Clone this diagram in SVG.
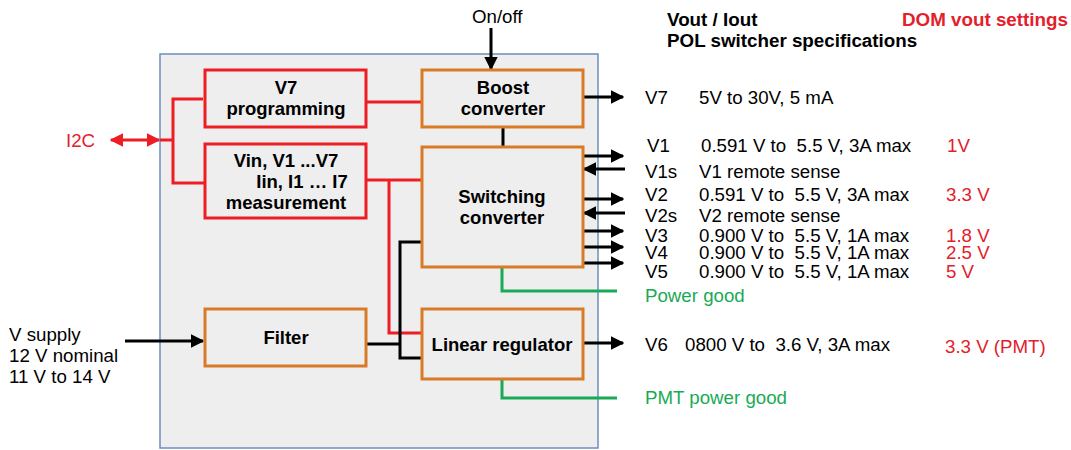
<svg xmlns="http://www.w3.org/2000/svg" width="1071" height="450" viewBox="0 0 1071 450">
<defs>
<style>
.t{font-family:"Liberation Sans",Arial,sans-serif;font-size:18.7px;fill:#000}
.b{font-family:"Liberation Sans",Arial,sans-serif;font-size:18.5px;font-weight:bold;fill:#000;text-anchor:middle}
.h{font-family:"Liberation Sans",Arial,sans-serif;font-size:18.8px;font-weight:bold;fill:#000}
.red{fill:#e3202b}
.grn{fill:#1aaa55}
.rbox{fill:#eeeeee;stroke:#ee1c25;stroke-width:3}
.obox{fill:#eeeeee;stroke:#d97a26;stroke-width:3}
.rl{fill:none;stroke:#ee1c25;stroke-width:3}
.bl{fill:none;stroke:#000;stroke-width:3}
.gl{fill:none;stroke:#1aaa55;stroke-width:3}
</style>
<marker id="ah" viewBox="0 0 10 10" refX="9" refY="5" markerWidth="4.5" markerHeight="4.5" markerUnits="strokeWidth" orient="auto"><path d="M0,0 L10,5 L0,10 z" fill="#000"/></marker>
<marker id="ahr" viewBox="0 0 10 10" refX="9" refY="5" markerWidth="4.5" markerHeight="4.5" markerUnits="strokeWidth" orient="auto-start-reverse"><path d="M0,0 L10,5 L0,10 z" fill="#ee1c25"/></marker>
</defs>
<rect x="0" y="0" width="1071" height="450" fill="#fff"/>
<rect id="outer" x="160" y="54" width="438" height="394" fill="#eeeeee" stroke="#6c8ebf" stroke-width="1.5"/>

<g id="connectors">
<line class="rl" x1="111" y1="140" x2="159" y2="140" marker-start="url(#ahr)" marker-end="url(#ahr)"/>
<polyline class="rl" points="203,99 173,99 173,183 205,183"/>
<line class="rl" x1="160" y1="140" x2="173" y2="140"/>
<line class="rl" x1="366" y1="102" x2="422" y2="102"/>
<line class="rl" x1="366" y1="180" x2="422" y2="180"/>
<polyline class="rl" points="389,180 389,333 422,333"/>
<line class="bl" x1="491" y1="28" x2="491" y2="69" marker-end="url(#ah)"/>
<line class="bl" x1="503" y1="127" x2="503" y2="147"/>
<polyline class="bl" points="422,242 400,242 400,358 422,358"/>
<line class="bl" x1="366" y1="344" x2="400" y2="344"/>
<line class="bl" x1="125" y1="341" x2="203" y2="341" marker-end="url(#ah)"/>
<line class="bl" x1="583" y1="97" x2="623" y2="97" marker-end="url(#ah)"/>
<line class="bl" x1="583" y1="156" x2="623" y2="156" marker-end="url(#ah)"/>
<line class="bl" x1="625" y1="169" x2="584" y2="169" marker-end="url(#ah)"/>
<line class="bl" x1="583" y1="199" x2="623" y2="199" marker-end="url(#ah)"/>
<line class="bl" x1="625" y1="213" x2="584" y2="213" marker-end="url(#ah)"/>
<line class="bl" x1="583" y1="231" x2="623" y2="231" marker-end="url(#ah)"/>
<line class="bl" x1="583" y1="247" x2="623" y2="247" marker-end="url(#ah)"/>
<line class="bl" x1="583" y1="263" x2="623" y2="263" marker-end="url(#ah)"/>
<line class="bl" x1="583" y1="343" x2="623" y2="343" marker-end="url(#ah)"/>
<polyline class="gl" points="502,267 502,291 617,291"/>
<polyline class="gl" points="502,379 502,398 617,398"/>
</g>

<g id="v7prog"><rect class="rbox" x="205" y="70" width="161" height="57"/><text class="b" x="286" y="94">V7</text><text class="b" x="286" y="115">programming</text></g>
<g id="boost"><rect class="obox" x="422" y="70" width="161" height="57"/><text class="b" x="503" y="94">Boost</text><text class="b" x="503" y="115">converter</text></g>
<g id="meas"><rect class="rbox" x="205" y="144" width="161" height="74"/><text class="b" x="286" y="167">Vin, V1 ...V7</text><text class="b" x="302" y="188">Iin, I1 … I7</text><text class="b" x="286" y="209">measurement</text></g>
<g id="switching"><rect class="obox" x="422" y="147" width="161" height="120"/><text class="b" x="502" y="203">Switching</text><text class="b" x="502" y="224">converter</text></g>
<g id="filter"><rect class="obox" x="205" y="309" width="161" height="57"/><text class="b" x="286" y="344">Filter</text></g>
<g id="linear"><rect class="obox" x="422" y="309" width="161" height="70"/><text class="b" x="502" y="351">Linear regulator</text></g>

<g id="labels">
<text class="t" x="472" y="23">On/off</text>
<text class="t red" x="66" y="147">I2C</text>
<text class="t" x="9" y="341">V supply</text>
<text class="t" x="9" y="362">12 V nominal</text>
<text class="t" x="9" y="383">11 V to 14 V</text>
<text class="h" x="667" y="26">Vout / Iout</text>
<text class="h" x="667" y="47">POL switcher specifications</text>
<text class="h red" x="902" y="26">DOM vout settings</text>
<text class="t" x="645" y="104">V7</text><text class="t" x="699" y="104">5V to 30V, 5 mA</text>
<text class="t" x="647" y="152">V1</text><text class="t" x="701" y="152" xml:space="preserve">0.591 V to  5.5 V, 3A max</text><text class="t red" x="947" y="152">1V</text>
<text class="t" x="645" y="178">V1s</text><text class="t" x="699" y="178">V1 remote sense</text>
<text class="t" x="645" y="201">V2</text><text class="t" x="699" y="201" xml:space="preserve">0.591 V to  5.5 V, 3A max</text><text class="t red" x="946" y="201">3.3 V</text>
<text class="t" x="645" y="222">V2s</text><text class="t" x="699" y="222">V2 remote sense</text>
<text class="t" x="645" y="242">V3</text><text class="t" x="699" y="242" xml:space="preserve">0.900 V to  5.5 V, 1A max</text><text class="t red" x="946" y="242">1.8 V</text>
<text class="t" x="645" y="259">V4</text><text class="t" x="699" y="259" xml:space="preserve">0.900 V to  5.5 V, 1A max</text><text class="t red" x="946" y="259">2.5 V</text>
<text class="t" x="645" y="278">V5</text><text class="t" x="699" y="278" xml:space="preserve">0.900 V to  5.5 V, 1A max</text><text class="t red" x="946" y="278">5 V</text>
<text class="t grn" x="645" y="302">Power good</text>
<text class="t" x="645" y="351">V6</text><text class="t" x="685" y="351" xml:space="preserve">0800 V to  3.6 V, 3A max</text><text class="t red" x="945" y="353">3.3 V (PMT)</text>
<text class="t grn" x="645" y="404">PMT power good</text>
</g>
</svg>
